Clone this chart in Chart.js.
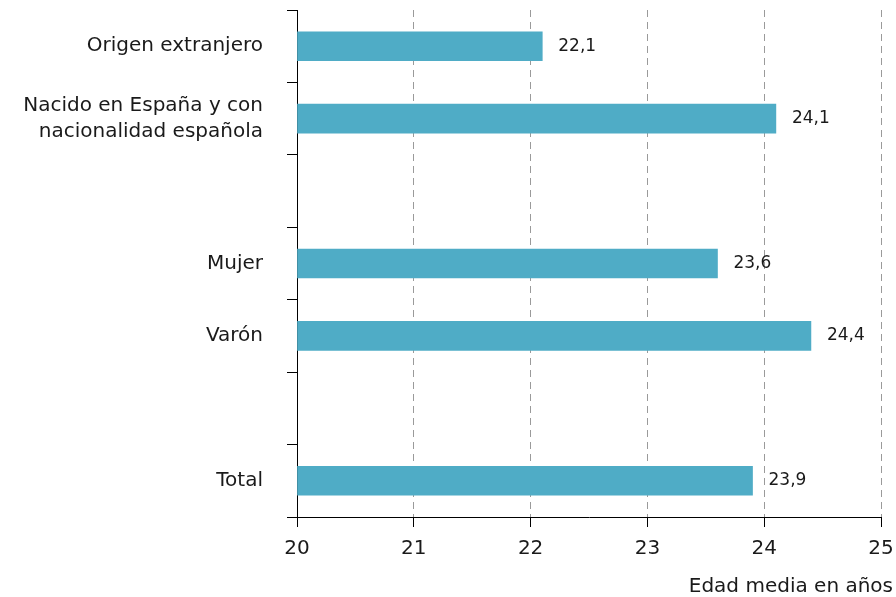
<!DOCTYPE html>
<html lang="es">
<head>
<meta charset="UTF-8">
<title>Edad media</title>
<script src="https://cdn.jsdelivr.net/npm/chart.js"></script>
<style>
    html, body { margin: 0; padding: 0; background: #fff; }
    #wrap { width: 896px; height: 597px; }
</style>
</head>
<body>
<div id="wrap"><canvas id="edadChart"></canvas></div>
<script>
    const categories = [
        'Origen extranjero',
        ['Nacido en España y con', 'nacionalidad española'],
        '',
        'Mujer',
        'Varón',
        '',
        'Total'
    ];
    const edadMedia = [22.1, 24.1, null, 23.6, 24.4, null, 23.9];
    const xTicks = [20, 21, 22, 23, 24, 25];
    const axisTitle = 'Edad media en años';

    const FONT = 'DejaVu Sans';

    // value labels next to each bar, plus the axis title at the bottom right
    const labelsPlugin = {
        id: 'labelsPlugin',
        afterDatasetsDraw(chart) {
            const ctx = chart.ctx;
            const meta = chart.getDatasetMeta(0);
            ctx.save();
            ctx.font = '17px "' + FONT + '"';
            ctx.fillStyle = '#1a1a1a';
            ctx.textAlign = 'left';
            ctx.textBaseline = 'middle';
            meta.data.forEach((bar, i) => {
                const v = edadMedia[i];
                if (v == null) return;
                ctx.fillText(v.toFixed(1).replace('.', ','), bar.x + 16, bar.y);
            });
            ctx.font = '20px "' + FONT + '"';
            ctx.textAlign = 'right';
            ctx.fillText(axisTitle, 893, 587);
            ctx.restore();
        }
    };

    new Chart(document.getElementById('edadChart'), {
        type: 'bar',
        data: {
            labels: categories,
            datasets: [{
                data: edadMedia,
                base: 20,
                backgroundColor: '#4facc6',
                barThickness: 29
            }]
        },
        options: {
            indexAxis: 'y',
            responsive: true,
            maintainAspectRatio: false,
            animation: false,
            layout: { padding: { top: 10, right: 15, left: 0, bottom: 0 } },
            plugins: {
                legend: { display: false },
                tooltip: { enabled: false }
            },
            scales: {
                x: {
                    min: 20,
                    max: 25,
                    afterBuildTicks(scale) {
                        scale.ticks = xTicks.map(v => ({ value: v }));
                    },
                    afterFit(scale) {
                        scale.height = 80;
                        scale.paddingLeft = 0;
                        scale.paddingRight = 0;
                    },
                    grid: {
                        color: ctx => ctx.index === 0 ? 'transparent' : '#9a9a9a',
                        tickColor: '#000',
                        tickLength: 10,
                        tickBorderDash: []
                    },
                    border: { display: true, color: '#000', width: 1, dash: [7, 5] },
                    ticks: {
                        color: '#1a1a1a',
                        padding: 10,
                        maxRotation: 0,
                        font: { family: FONT, size: 20 }
                    }
                },
                y: {
                    afterFit(scale) {
                        scale.width = 297;
                        scale.paddingTop = 0;
                        scale.paddingBottom = 0;
                    },
                    grid: {
                        color: 'transparent',
                        tickColor: '#000',
                        tickLength: 10,
                        offset: true
                    },
                    border: { display: true, color: '#000', width: 1 },
                    ticks: {
                        color: '#1a1a1a',
                        padding: 24,
                        autoSkip: false,
                        font: { family: FONT, size: 20, lineHeight: 1.3 }
                    }
                }
            }
        },
        plugins: [labelsPlugin]
    });
</script>
</body>
</html>
